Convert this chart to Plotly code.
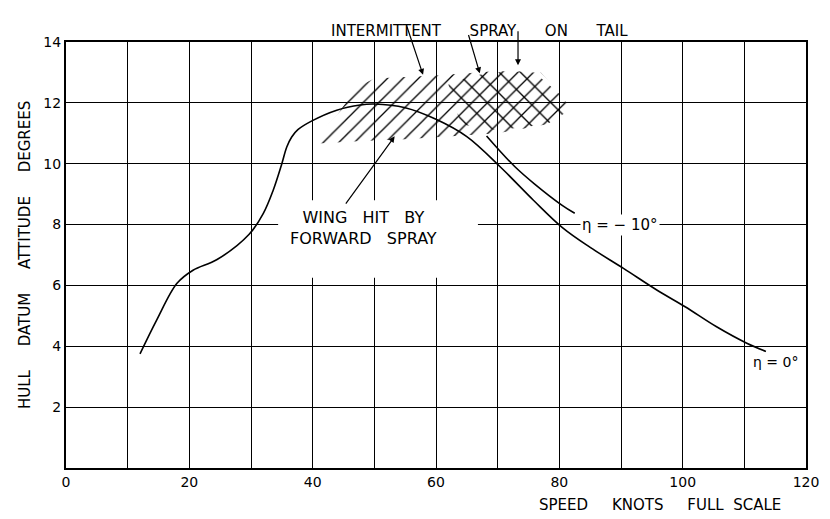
import plotly.graph_objects as go

# eta = 0 deg curve
speed_eta0 = [12, 14.7, 18, 20.6, 24.5, 29.7, 32, 33.6, 35, 35.8, 36.6, 37.6, 39.8, 43.9,
              47.7, 50, 55, 60, 65, 70.4, 75.8, 80.5, 85, 90.4, 95.8, 100.4, 105.5,
              110.4, 113.5]
attitude_eta0 = [3.75, 4.86, 6.07, 6.5, 6.85, 7.68, 8.37, 9.13, 10.0, 10.55, 10.88, 11.12,
                 11.4, 11.76, 11.93, 11.96, 11.84, 11.46, 10.89, 9.9, 8.8, 7.9, 7.25,
                 6.56, 5.85, 5.3, 4.64, 4.1, 3.83]

# eta = -10 deg curve
speed_eta10 = [68.2, 70, 72.8, 76, 80.4, 82.5]
attitude_eta10 = [10.91, 10.5, 9.9, 9.33, 8.64, 8.37]

# spray region outlines
spray_x = [39.5, 44, 47, 50, 60, 70, 76, 80, 82, 78, 70, 62, 55, 48, 39.5]
spray_y = [10.65, 11.6, 12.5, 12.8, 12.9, 13.05, 13.0, 12.3, 11.8, 11.3, 11.0, 10.9,
           10.8, 10.75, 10.65]
tail_x = [62, 66, 72, 77, 80, 82, 78, 70, 64, 62]
tail_y = [12.6, 12.9, 13.05, 13.0, 12.3, 11.8, 11.3, 11.1, 11.3, 12.6]

x_ticks = [0, 20, 40, 60, 80, 100, 120]
y_ticks = [2, 4, 6, 8, 10, 12, 14]

FONT = "DejaVu Sans"


def gap(n):
    return "\u00a0" * n


fig = go.Figure()

fig.add_trace(go.Scatter(
    x=spray_x, y=spray_y, mode='lines', fill='toself',
    fillcolor='rgba(0,0,0,0)', line=dict(width=0),
    fillpattern=dict(shape='/', fgcolor='black', bgcolor='rgba(0,0,0,0)',
                     fgopacity=1, size=11, solidity=0.12),
    hoverinfo='skip', showlegend=False
))
fig.add_trace(go.Scatter(
    x=tail_x, y=tail_y, mode='lines', fill='toself',
    fillcolor='rgba(0,0,0,0)', line=dict(width=0),
    fillpattern=dict(shape='\\', fgcolor='black', bgcolor='rgba(0,0,0,0)',
                     fgopacity=1, size=15, solidity=0.09),
    hoverinfo='skip', showlegend=False
))

fig.add_trace(go.Scatter(
    x=speed_eta0, y=attitude_eta0, mode='lines', line_shape='spline',
    line=dict(color='black', width=1.6), showlegend=False
))
fig.add_trace(go.Scatter(
    x=speed_eta10, y=attitude_eta10, mode='lines', line_shape='spline',
    line=dict(color='black', width=1.6), showlegend=False
))

# gap in the grid around the wing note
fig.add_shape(type='rect', layer='between', x0=34.4, x1=66.8, y0=6.25, y1=8.8,
              fillcolor='white', line=dict(width=0))

fig.add_annotation(x=48.3, y=7.89,
                   text="WING" + gap(3) + "HIT" + gap(3) + "BY<br>FORWARD" + gap(3) + "SPRAY",
                   showarrow=False, font=dict(family=FONT, size=16, color='black'))
fig.add_annotation(x=53.3, y=10.9, ax=45.2, ay=8.64, axref='x', ayref='y', text='',
                   showarrow=True, arrowhead=2, arrowsize=1, arrowwidth=1.2,
                   arrowcolor='black')

fig.add_annotation(x=67, xref='x', y=1.052, yref='paper',
                   text="INTERMITTENT" + gap(6) + "SPRAY" + gap(6) + "ON" + gap(6) + "TAIL",
                   showarrow=False, font=dict(family=FONT, size=15, color='black'))
for tip_x, tip_y, tail_xx, tail_yy in [(57.9, 12.92, 55.2, 14.56),
                                       (67.1, 12.97, 65.2, 14.28),
                                       (73.3, 13.24, 73.3, 14.4)]:
    fig.add_annotation(x=tip_x, y=tip_y, ax=tail_xx, ay=tail_yy, axref='x', ayref='y',
                       text='', showarrow=True, arrowhead=2, arrowsize=1,
                       arrowwidth=1.2, arrowcolor='black')

fig.add_annotation(x=89.8, y=7.99, text="η = − 10°", showarrow=False, bgcolor='white',
                   font=dict(family=FONT, size=15, color='black'))
fig.add_annotation(x=115, y=3.48, text="η = 0°", showarrow=False, bgcolor='white',
                   font=dict(family=FONT, size=14, color='black'))

fig.add_annotation(xref='paper', yref='paper', x=-0.0554, y=0.5, textangle=-90,
                   text="HULL" + gap(5) + "DATUM" + gap(5) + "ATTITUDE" + gap(5) + "DEGREES",
                   showarrow=False, xanchor='center', yanchor='middle',
                   font=dict(family=FONT, size=15, color='black'))
fig.add_annotation(xref='paper', yref='paper', x=0.803, y=-0.087,
                   text="SPEED" + gap(5) + "KNOTS" + gap(5) + "FULL" + gap(2) + "SCALE",
                   showarrow=False, xanchor='center', yanchor='middle',
                   font=dict(family=FONT, size=15, color='black'))

# the page body adds an 8px margin, so the figure is 8px smaller on each offset side
fig.update_layout(
    width=822, height=511,
    margin=dict(l=58, r=24, t=34, b=51),
    paper_bgcolor='white', plot_bgcolor='white',
    font=dict(family=FONT, size=14, color='black'),
    xaxis=dict(range=[0, 120], tickvals=x_ticks, showgrid=True, gridcolor='black',
               gridwidth=1.2, showline=True, linecolor='black', linewidth=2,
               mirror=True, ticks='', zeroline=False,
               minor=dict(dtick=10, showgrid=True, gridcolor='black', gridwidth=1.2)),
    yaxis=dict(range=[0, 14], tickvals=y_ticks, showgrid=True, gridcolor='black',
               gridwidth=1.2, showline=True, linecolor='black', linewidth=2,
               mirror=True, ticks='', zeroline=False),
)

fig.write_html("out.html")
